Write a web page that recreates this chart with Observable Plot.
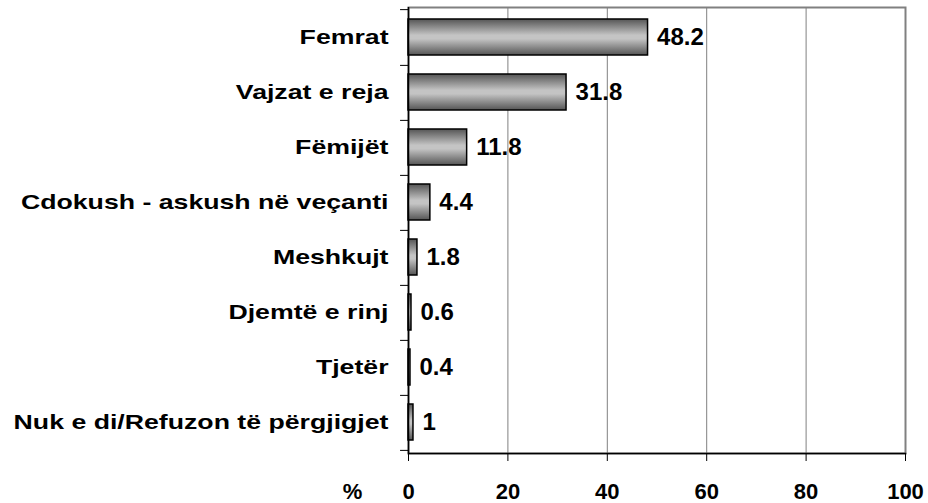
<!DOCTYPE html>
<html>
<head>
<meta charset="utf-8">
<script src="https://cdn.jsdelivr.net/npm/d3@7"></script>
<script src="https://cdn.jsdelivr.net/npm/@observablehq/plot@0.6"></script>
<style>
  html, body { margin: 0; padding: 0; background: #fff; }
  svg { font-family: "Liberation Sans", Arial, sans-serif; }
</style>
</head>
<body>
<div id="chart"></div>
<script>
const categories = [
  "Femrat",
  "Vajzat e reja",
  "Fëmijët",
  "Cdokush - askush në veçanti",
  "Meshkujt",
  "Djemtë e rinj",
  "Tjetër",
  "Nuk e di/Refuzon të përgjigjet"
];
const values = [48.2, 31.8, 11.8, 4.4, 1.8, 0.6, 0.4, 1];
const valueLabels = ["48.2", "31.8", "11.8", "4.4", "1.8", "0.6", "0.4", "1"];
const xTicks = [0, 20, 40, 60, 80, 100];
const unitLabel = "%";

const data = categories.map((c, i) => ({cat: c, value: values[i], label: valueLabels[i]}));

const W = 928, H = 503;
const mL = 408, mR = 23, mT = 7, mB = 50;
const step = (H - mT - mB) / categories.length;

const chart = Plot.plot({
  width: W,
  height: H,
  marginLeft: mL,
  marginRight: mR,
  marginTop: mT,
  marginBottom: mB,
  style: {background: "#fff", color: "#000"},
  x: {domain: [0, 100], axis: null},
  y: {domain: categories, paddingInner: 0.34, paddingOuter: 0.17, axis: null},
  marks: [
    Plot.frame({stroke: "#808080", strokeWidth: 2}),
    Plot.gridX(xTicks.filter(d => d > 0 && d < 100), {stroke: "#808080", strokeOpacity: 1, strokeWidth: 1}),
    Plot.barX(data, {
      x: "value", y: "cat",
      fill: "url(#barGrad)", stroke: "#000", strokeWidth: 1.5
    }),
    Plot.ruleX([0], {stroke: "#000", strokeWidth: 1.5}),
    Plot.frame({anchor: "bottom", stroke: "#000", strokeWidth: 1.5}),
    Plot.ruleY(categories, {y: d => d, dy: step / 2, x1: -1.6, x2: 0, stroke: "#000", strokeWidth: 1}),
    Plot.ruleY(categories.slice(0, 1), {y: d => d, dy: -step / 2, x1: -1.6, x2: 0, stroke: "#000", strokeWidth: 1}),
    Plot.axisX(xTicks, {
      anchor: "bottom", tickSize: 8, tickPadding: 22, label: null,
      fontSize: 22, fontWeight: "bold", stroke: "#000", fill: "#000"
    }),
    Plot.text(data, {
      x: "value", y: "cat", text: "label",
      dx: 9, textAnchor: "start",
      fontSize: 24, fontWeight: "bold", fill: "#000"
    }),
    Plot.text(categories, {
      y: d => d, text: d => d, frameAnchor: "left", dx: -20, textAnchor: "end",
      fontSize: 21, fontWeight: "bold", fill: "#000"
    }),
    Plot.text([unitLabel], {
      text: d => d, frameAnchor: "bottom-left", dx: -56, dy: 30,
      lineAnchor: "top", textAnchor: "middle",
      fontSize: 22, fontWeight: "bold", fill: "#000"
    })
  ]
});

// gradient definition for bars
const NS = "http://www.w3.org/2000/svg";
const svg = chart.tagName.toLowerCase() === "svg" ? chart : chart.querySelector("svg");
const defs = document.createElementNS(NS, "defs");
const grad = document.createElementNS(NS, "linearGradient");
grad.setAttribute("id", "barGrad");
grad.setAttribute("x1", "0"); grad.setAttribute("y1", "0");
grad.setAttribute("x2", "0"); grad.setAttribute("y2", "1");
[["0", "#555555"], ["0.45", "#c4c4c4"], ["0.55", "#c4c4c4"], ["1", "#555555"]].forEach(([o, c]) => {
  const s = document.createElementNS(NS, "stop");
  s.setAttribute("offset", o);
  s.setAttribute("stop-color", c);
  grad.appendChild(s);
});
defs.appendChild(grad);
svg.insertBefore(defs, svg.firstChild);

document.getElementById("chart").appendChild(chart);

// horizontal stretch of category labels (as in the source)
const catSet = new Set(categories);
svg.querySelectorAll("text").forEach(t => {
  if (!catSet.has(t.textContent)) return;
  const w = t.getComputedTextLength();
  if (w > 0) {
    t.setAttribute("textLength", (w * 1.27).toFixed(1));
    t.setAttribute("lengthAdjust", "spacingAndGlyphs");
  }
});
</script>
</body>
</html>
